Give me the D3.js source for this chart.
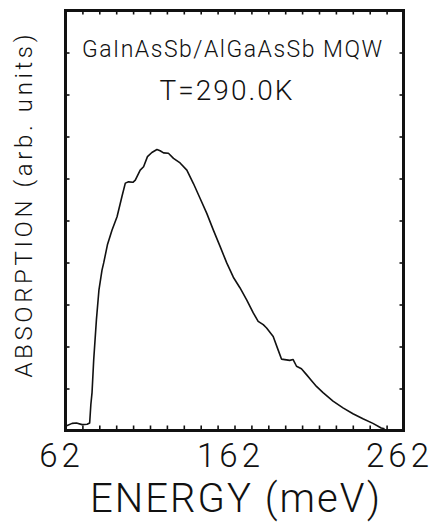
<!DOCTYPE html>
<html>
<head>
<meta charset="utf-8">
<script src="https://cdn.jsdelivr.net/npm/d3@7"></script>
<style>
  body { margin: 0; background: #fff; }
  text { font-family: Roboto, "Liberation Sans", Arial, sans-serif; font-weight: 300; fill: #111; }
</style>
</head>
<body>
<div id="chart"></div>
<script>
// Energy (meV)
const energy = [62, 65.9, 68.5, 71.8, 74.8, 76.3, 77.0, 77.7, 78.7, 80.3, 81.8, 83.6, 84.6, 86.8,
  89.5, 92.5, 95.4, 97.4, 99.3, 101.9, 103.3, 106.2, 108.2, 110.5, 113.1, 116.1, 118.0, 120.0,
  122.9, 125.9, 129.8, 133.8, 137.7, 141.6, 145.6, 149.5, 153.4, 157.4, 161.3, 165.2, 169.2,
  173.1, 176.0, 179.0, 181.0, 184.9, 187.8, 189.8, 194.7, 196.7, 198.7, 201.6, 204.6, 207.5,
  210.5, 214.4, 220.3, 226.2, 232.1, 238.0, 243.9, 248.8, 250.8];
// Absorption (arb. units), frame height = 10
const absorption = [0.10, 0.17, 0.18, 0.14, 0.15, 0.18, 0.62, 0.90, 1.69, 2.64, 3.35, 3.82, 3.99, 4.42,
  4.77, 5.09, 5.57, 5.89, 5.92, 5.91, 5.96, 6.20, 6.28, 6.52, 6.62, 6.69, 6.66, 6.61,
  6.60, 6.48, 6.37, 6.20, 5.88, 5.53, 5.17, 4.77, 4.39, 3.99, 3.65, 3.40, 3.11,
  2.80, 2.60, 2.52, 2.44, 2.24, 1.92, 1.70, 1.67, 1.69, 1.53, 1.47, 1.33, 1.19,
  1.05, 0.90, 0.70, 0.54, 0.40, 0.28, 0.17, 0.06, 0.04];

const xTickLabels = ["62", "162", "262"];
const titleLines = ["GaInAsSb/AlGaAsSb MQW", "T=290.0K"];

const width = 441, height = 525;
const plotL = 65.5, plotR = 403.5, plotT = 10.5, plotB = 430.5;

const x = d3.scaleLinear().domain([62, 262]).range([plotL, plotR]);
const y = d3.scaleLinear().domain([0, 10]).range([plotB, plotT]);

const svg = d3.select("#chart").append("svg")
  .attr("width", width)
  .attr("height", height);

// ticks on all four sides, pointing inward
const minorX = d3.range(72, 262, 10);
const minorY = d3.range(1, 10, 1);

svg.append("g").attr("transform", `translate(0,${plotB})`)
  .call(d3.axisBottom(x).tickValues(minorX).tickSizeInner(-5).tickSizeOuter(0).tickFormat(""))
  .call(g => g.select(".domain").remove());
svg.append("g").attr("transform", `translate(0,${plotT})`)
  .call(d3.axisTop(x).tickValues(minorX).tickSizeInner(-4).tickSizeOuter(0).tickFormat(""))
  .call(g => g.select(".domain").remove());
svg.append("g").attr("transform", `translate(${plotL},0)`)
  .call(d3.axisLeft(y).tickValues(minorY).tickSizeInner(-4).tickSizeOuter(0).tickFormat(""))
  .call(g => g.select(".domain").remove());
svg.append("g").attr("transform", `translate(${plotR},0)`)
  .call(d3.axisRight(y).tickValues(minorY).tickSizeInner(-4).tickSizeOuter(0).tickFormat(""))
  .call(g => g.select(".domain").remove());
svg.selectAll(".tick line").attr("stroke", "#111").attr("stroke-width", 1.6);

// frame
svg.append("rect")
  .attr("x", plotL).attr("y", plotT)
  .attr("width", plotR - plotL).attr("height", plotB - plotT)
  .attr("fill", "none").attr("stroke", "#111").attr("stroke-width", 3);

// the spectrum
const pts = energy.map((e, i) => [e, absorption[i]]);
svg.append("path")
  .datum(pts)
  .attr("fill", "none")
  .attr("stroke", "#111")
  .attr("stroke-width", 1.6)
  .attr("stroke-linejoin", "round")
  .attr("d", d3.line().x(d => x(d[0])).y(d => y(d[1])));

// x tick labels
svg.selectAll(".xlab")
  .data(xTickLabels)
  .enter().append("text")
  .attr("x", d => x(+d))
  .attr("dx", -4)
  .attr("y", 467)
  .attr("text-anchor", "middle")
  .style("font-size", "33px")
  .style("letter-spacing", "4px")
  .text(d => d);

// axis titles
svg.append("text")
  .attr("x", 235).attr("y", 512)
  .attr("text-anchor", "middle")
  .style("font-size", "40px")
  .attr("textLength", 290)
  .text("ENERGY (meV)");

svg.append("text")
  .attr("transform", "translate(32,206) rotate(-90)")
  .attr("text-anchor", "middle")
  .style("font-size", "24px")
  .attr("textLength", 343)
  .text("ABSORPTION (arb. units)");

// annotation
svg.append("text")
  .attr("x", 232).attr("y", 57)
  .attr("text-anchor", "middle")
  .style("font-size", "23px")
  .attr("textLength", 300)
  .text(titleLines[0]);
svg.append("text")
  .attr("x", 226).attr("y", 100)
  .attr("text-anchor", "middle")
  .style("font-size", "28px")
  .attr("textLength", 133)
  .text(titleLines[1]);
</script>
</body>
</html>
